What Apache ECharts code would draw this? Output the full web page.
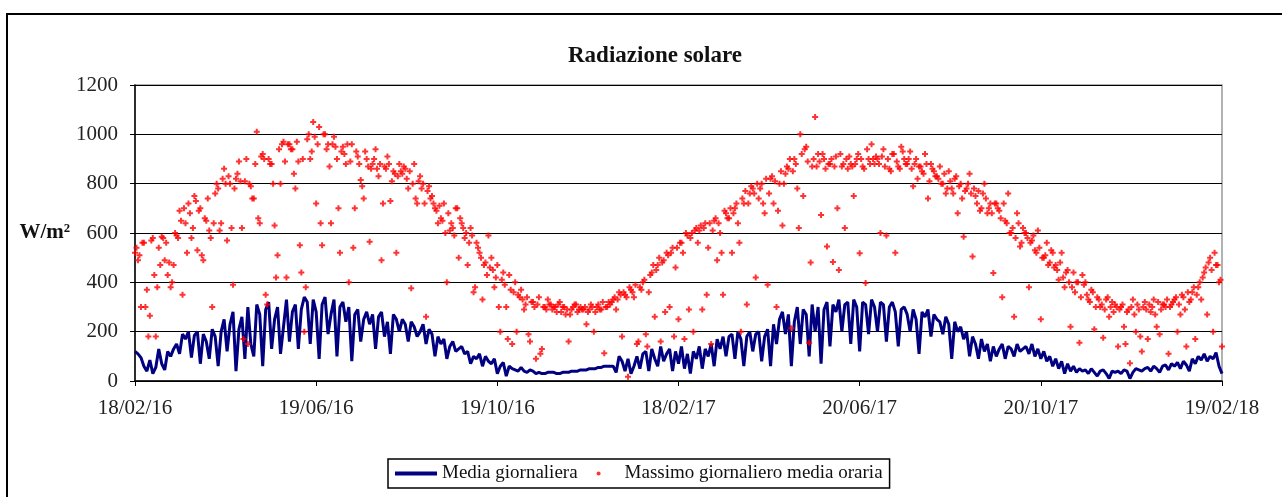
<!DOCTYPE html>
<html>
<head>
<meta charset="utf-8">
<title>Radiazione solare</title>
<script src="https://cdn.jsdelivr.net/npm/echarts@6/dist/echarts.min.js"></script>
<style>
  html, body { margin: 0; padding: 0; background: #fff; }
  #chart { width: 1282px; height: 497px; }
</style>
</head>
<body>
<div id="chart"></div>
<script>
// giorni dal 18/02/16 al 19/02/18 (732 giorni)
const STEP = 2;
const tickLabels = ["18/02/16", "19/06/16", "19/10/16", "18/02/17", "20/06/17", "20/10/17", "19/02/18"];

// Media giornaliera (W/m2), giorni pari
const mediaGiornaliera = [
  120,110,95,60,40,85,30,55,130,70,
  45,120,100,130,150,110,190,170,200,95,
  185,200,70,190,160,90,210,180,60,200,
  250,120,230,280,40,210,260,90,300,150,
  100,310,270,60,290,320,130,250,300,110,
  220,330,160,280,310,130,290,340,320,150,
  330,280,90,310,340,190,270,330,100,300,
  320,240,300,80,270,290,160,250,280,230,
  270,130,260,280,180,240,110,270,250,200,
  250,230,160,240,220,180,200,230,150,210,
  190,100,180,150,170,90,140,160,120,130,
  140,110,120,70,100,90,110,60,100,80,
  70,90,30,60,75,20,60,50,45,40,
  55,40,35,45,40,30,35,30,30,35,
  35,35,30,30,35,35,35,40,40,40,
  45,45,45,50,50,50,55,55,60,60,
  60,60,35,100,80,40,90,30,60,100,
  50,110,120,40,130,90,60,140,80,110,
  130,40,120,70,140,50,110,30,120,90,
  140,50,130,100,150,60,170,130,180,100,
  180,190,90,200,170,60,180,200,120,190,
  200,80,180,210,60,230,150,250,280,190,
  270,60,240,300,150,290,270,100,310,200,
  300,70,290,320,140,310,280,330,200,310,
  320,150,330,300,120,320,310,190,330,300,
  200,320,310,160,300,320,280,140,290,300,
  270,200,290,250,110,280,260,290,180,270,
  250,240,190,260,230,90,240,200,220,170,
  200,100,180,150,90,170,120,150,80,140,
  100,130,150,90,140,130,100,150,120,130,
  140,110,150,100,130,90,120,80,100,60,
  90,50,80,30,70,40,60,35,50,40,
  45,30,50,35,20,40,45,30,10,40,
  35,40,30,45,40,10,35,50,45,40,
  50,55,40,60,50,35,60,65,45,70,
  60,75,50,80,65,40,90,70,100,85,
  110,80,100,90,115,60,30
];

// Massimo giornaliero media oraria (W/m2), giorni pari
const massimoPari = [
  520,490,300,560,370,265,580,180,540,585,
  490,430,380,470,590,690,350,640,720,580,
  750,530,700,490,650,610,300,760,780,640,
  860,570,800,390,820,890,620,810,150,790,
  740,1010,640,920,350,900,880,630,510,800,
  970,420,960,940,780,890,440,200,980,900,
  1050,720,1030,550,1000,960,640,990,900,520,
  950,880,400,960,700,910,815,740,900,565,
  880,940,830,490,870,910,730,850,520,880,
  840,860,780,376,880,720,830,800,260,790,
  750,700,640,660,720,400,610,620,700,500,
  640,580,470,620,360,560,520,330,480,590,
  500,380,470,200,440,300,430,150,400,350,
  370,290,340,160,320,90,340,130,300,330,
  310,300,280,320,300,270,160,290,310,280,
  300,290,230,290,300,280,310,290,113,300,
  310,330,290,360,180,350,17,370,340,150,
  380,400,190,360,440,260,470,160,490,520,
  300,540,460,250,560,170,590,580,200,620,
  610,290,640,540,150,650,490,600,350,680,
  660,520,700,640,200,720,310,760,780,420,
  740,800,680,390,820,720,300,800,630,840,
  860,214,900,780,1000,750,950,155,870,1070,
  920,673,900,545,880,482,910,450,870,620,
  860,880,750,900,518,870,397,900,960,880,
  900,600,940,590,860,920,520,870,950,900,
  880,930,790,900,870,850,920,740,880,850,
  830,870,800,760,850,780,820,680,800,585,
  780,840,505,750,770,700,800,680,720,438,
  720,690,340,650,760,600,260,680,545,620,
  600,380,570,530,610,250,500,560,480,520,
  470,410,520,380,450,220,440,400,155,430,
  400,330,370,210,340,300,175,330,260,320,
  310,140,300,220,280,72,330,200,290,120,
  320,170,280,330,220,190,310,300,110,310,
  330,200,270,340,140,320,360,170,380,330,
  440,270,500,200,470,400,140
];

// Massimo giornaliero media oraria (W/m2), giorni dispari
const massimoDispari = [
  540,510,560,300,180,570,430,380,470,580,
  560,480,400,600,580,650,700,520,680,620,
  730,690,510,660,740,580,640,800,610,820,
  800,830,620,780,840,810,170,900,800,740,
  880,660,910,900,310,880,800,420,940,960,
  890,960,940,840,970,550,900,380,1000,930,
  990,960,640,1000,940,870,960,950,700,930,
  920,960,890,540,930,880,790,930,870,860,
  900,860,880,720,860,880,810,840,830,850,
  870,820,850,800,740,810,780,720,770,740,
  720,690,710,650,600,680,640,590,700,660,
  620,600,560,590,380,540,500,470,430,460,
  450,420,300,410,390,170,370,360,200,340,
  330,310,190,320,300,310,110,300,290,310,
  290,300,310,280,300,290,270,300,310,290,
  290,300,280,310,200,300,290,320,300,320,
  320,340,330,350,360,340,380,360,390,160,
  370,410,140,430,470,450,500,480,280,510,
  520,180,540,560,520,600,290,600,610,560,
  630,620,350,640,610,660,640,520,690,660,
  700,680,720,560,740,770,720,790,760,800,
  780,720,820,760,830,810,690,850,800,870,
  900,850,880,620,920,940,890,480,900,870,
  890,920,860,880,900,870,700,920,880,900,
  910,870,880,920,900,860,940,880,900,910,
  880,910,870,900,850,920,890,860,930,880,
  900,860,880,820,870,840,880,810,860,830,
  820,800,840,780,810,760,830,790,740,770,
  800,760,780,720,690,760,740,700,680,720,
  700,660,720,640,600,620,580,640,560,600,
  580,560,590,520,540,500,510,470,530,460,
  450,480,420,440,400,380,360,400,340,390,
  350,320,360,300,330,310,290,340,300,280,
  300,290,310,150,290,300,270,310,180,300,
  290,310,300,270,320,290,310,330,300,320,
  340,310,350,290,360,330,380,350,400,420,
  460,480,450,520,470,410
];

const font = "'Liberation Serif', 'Times New Roman', serif";
const lastDay = (tickLabels.length - 1) * 122;

const massimoData = massimoPari.map((v, i) => [i * STEP, v])
  .concat(massimoDispari.map((v, i) => [i * STEP + 1, v]));

const chart = echarts.init(document.getElementById("chart"));
chart.setOption({
  animation: false,
  backgroundColor: "#fff",
  textStyle: { fontFamily: font },
  title: {
    text: "Radiazione solare",
    left: 650, top: 40, textAlign: "center",
    textStyle: { fontFamily: font, fontSize: 23, fontWeight: "bold", color: "#111" }
  },
  graphic: [{
    type: "rect", silent: true, z: -1,
    shape: { x: 7, y: 14, width: 1320, height: 520 },
    style: { fill: "none", stroke: "#000", lineWidth: 2 }
  }],
  legend: {
    left: 388, top: 459,
    padding: [5, 7, 5, 7],
    borderColor: "#000", borderWidth: 1.5,
    itemGap: 19, itemWidth: 42, itemHeight: 4,
    textStyle: { fontFamily: font, fontSize: 19, color: "#111" },
    data: [
      { name: "Media giornaliera", icon: "rect" },
      { name: "Massimo giornaliero media oraria", icon: "circle" }
    ]
  },
  grid: {
    left: 135, right: 60, top: 85, bottom: 116,
    show: true, borderColor: "#999", borderWidth: 1.5
  },
  xAxis: {
    type: "value", min: 0, max: lastDay, interval: 122,
    axisLine: { show: true, lineStyle: { color: "#000", width: 1.5 } },
    axisTick: { show: true, length: 5, lineStyle: { color: "#000" } },
    splitLine: { show: false },
    axisLabel: {
      margin: 17, fontSize: 21, color: "#222", fontFamily: font,
      formatter: v => tickLabels[Math.round(v / 122)]
    }
  },
  yAxis: {
    type: "value", min: 0, max: 1200, interval: 200,
    name: "W/m²", nameLocation: "middle", nameRotate: 0, nameGap: 60,
    nameTextStyle: { fontFamily: font, fontSize: 21, fontWeight: "bold", color: "#111" },
    axisLine: { show: true, lineStyle: { color: "#000", width: 1.5 } },
    axisTick: { show: true, length: 5, lineStyle: { color: "#000" } },
    splitLine: { lineStyle: { color: "#000", width: 1.2 } },
    axisLabel: { margin: 17, fontSize: 21, color: "#222", fontFamily: font, formatter: v => String(v) }
  },
  series: [
    {
      name: "Media giornaliera", type: "line",
      data: mediaGiornaliera.map((v, i) => [i * STEP, v]),
      showSymbol: false, color: "#000080",
      lineStyle: { color: "#000080", width: 3 },
      z: 2
    },
    {
      name: "Massimo giornaliero media oraria", type: "scatter",
      data: massimoData,
      symbol: "path://M2,0H4V2H6V4H4V6H2V4H0V2H2Z", symbolSize: 6,
      itemStyle: { color: "#ff0000" },
      z: 3
    }
  ]
});
</script>
</body>
</html>
